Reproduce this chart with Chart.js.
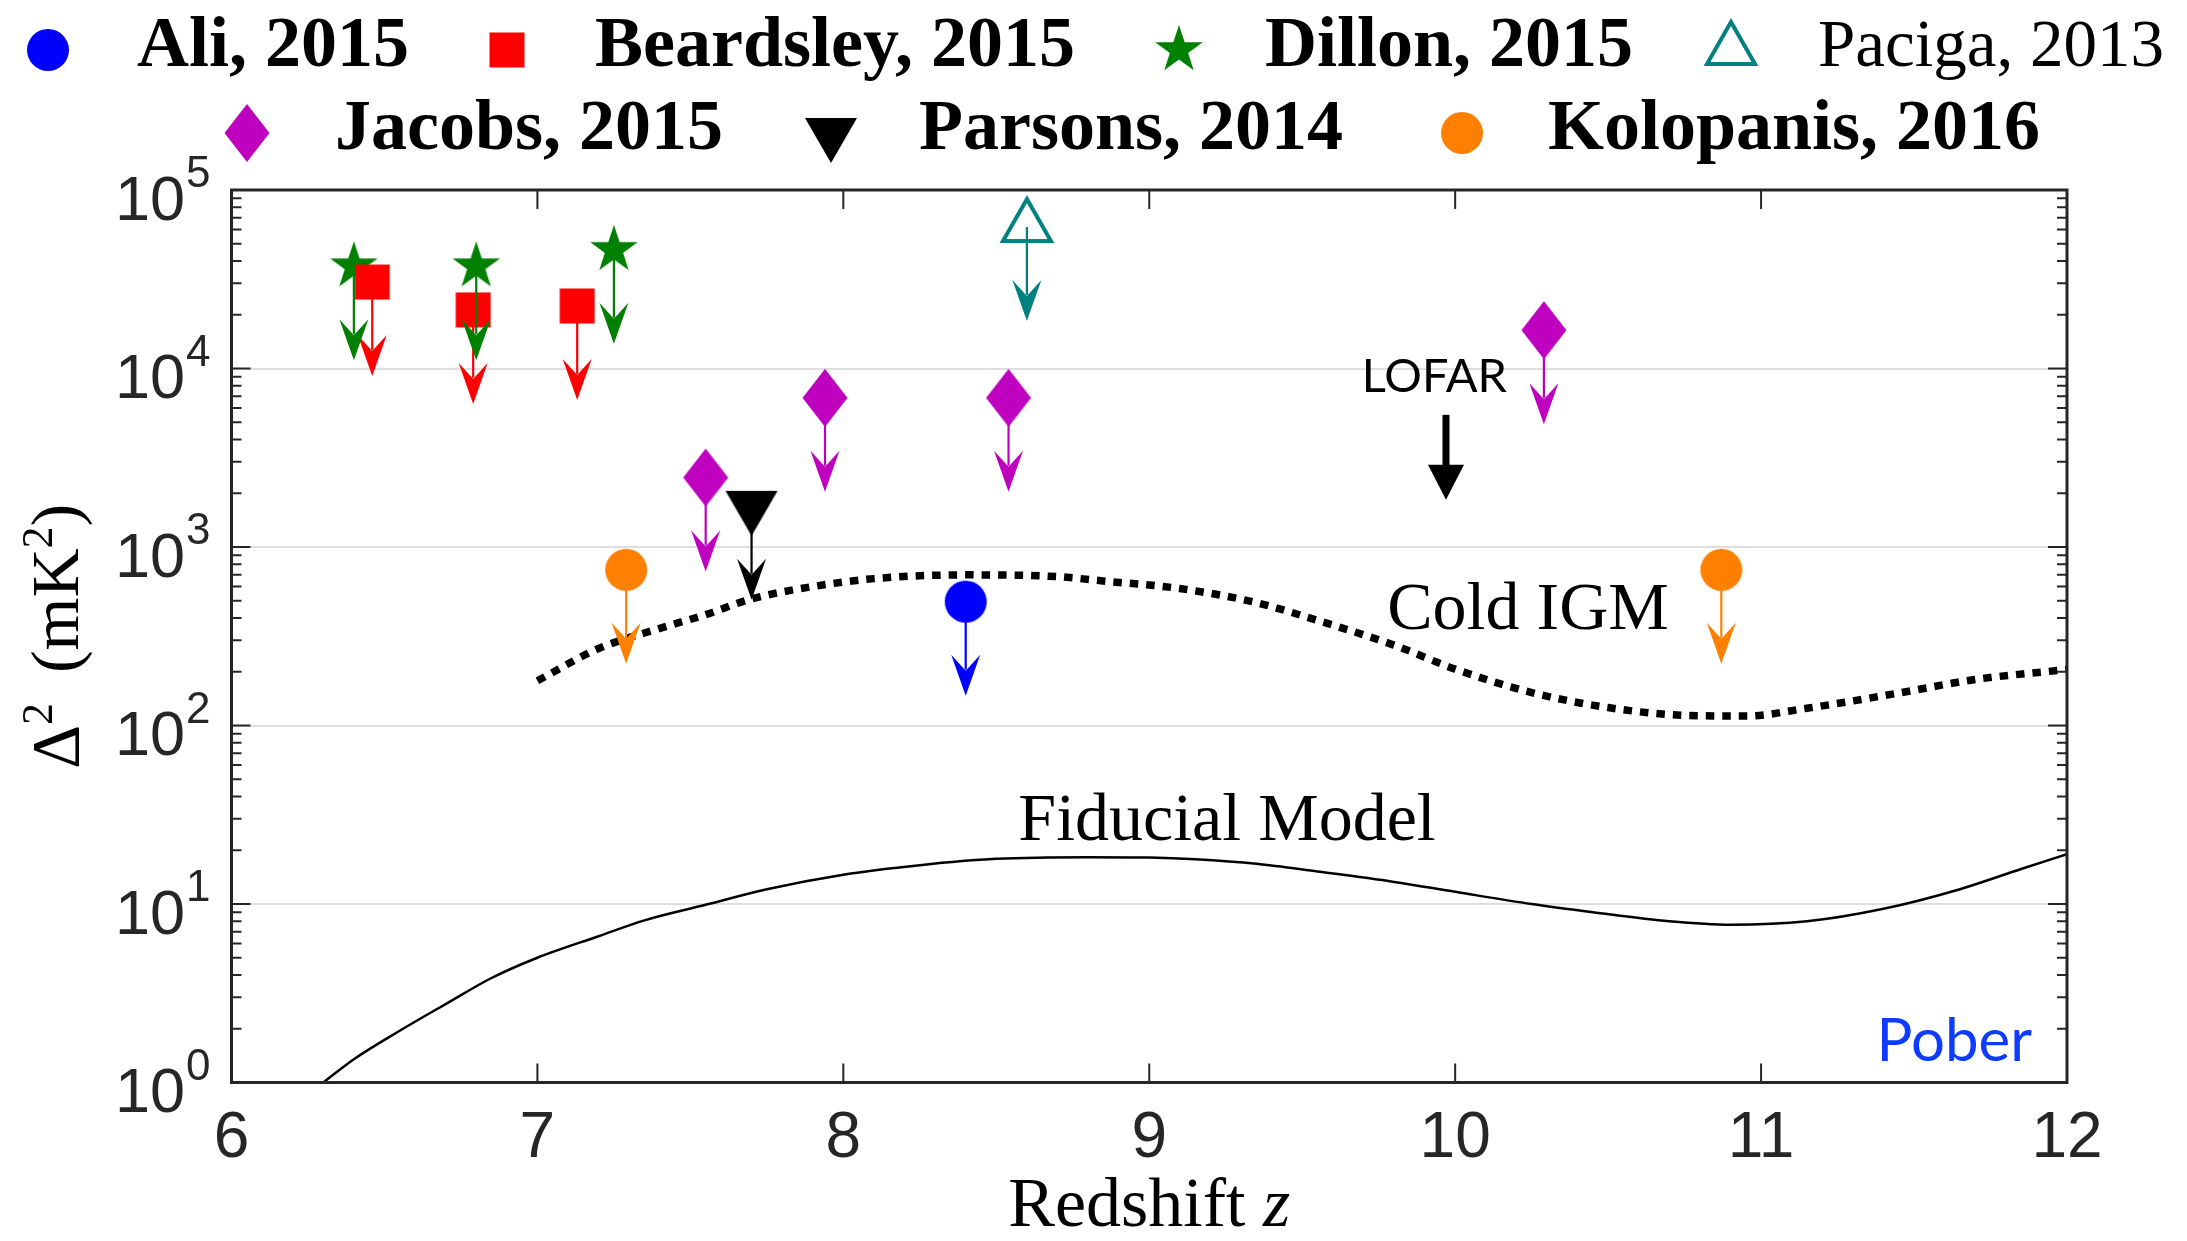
<!DOCTYPE html>
<html>
<head>
<meta charset="utf-8">
<script src="https://cdn.jsdelivr.net/npm/chart.js@4.4.1/dist/chart.umd.min.js"></script>
<style>
  html, body { margin: 0; padding: 0; background: #fff; }
  #wrap { width: 2187px; height: 1241px; position: relative; }
</style>
</head>
<body>
<div id="wrap"><canvas id="myChart"></canvas></div>
<script>
// upper limits, redshift z vs Delta^2 (mK^2)
const aliZ = [8.4];
const aliVal = [494];
const beardsleyZ = [6.46, 6.79, 7.13];
const beardsleyVal = [30500, 21300, 22400];
const dillonZ = [6.4, 6.8, 7.25];
const dillonVal = [37400, 37400, 46200];
const pacigaZ = [8.6];
const pacigaVal = [62000];
const jacobsZ = [7.55, 7.94, 8.54, 10.29];
const jacobsVal = [2450, 6850, 6850, 16400];
const parsonsZ = [7.7];
const parsonsVal = [1700];
const kolopanisZ = [7.29, 10.87];
const kolopanisVal = [745, 745];
const lofarZ = [9.97];
const lofarVal = [5500];

// model curves
const fiducialZ = [6.3, 6.4, 6.55, 6.7, 6.85, 7.0, 7.2, 7.35, 7.55, 7.75, 8.0, 8.25, 8.5, 8.8, 9.0, 9.15, 9.35, 9.55, 9.8, 10.0, 10.25, 10.45, 10.7, 10.9, 11.15, 11.4, 11.65, 11.85, 12.0];
const fiducialVal = [1.0, 1.35, 1.95, 2.75, 3.85, 5.0, 6.6, 8.1, 9.9, 12.1, 14.6, 16.5, 17.9, 18.3, 18.2, 17.8, 16.8, 15.2, 13.3, 11.7, 10.0, 9.0, 8.0, 7.65, 8.0, 9.4, 12.1, 15.7, 19.0];
const coldZ = [7.0, 7.2, 7.4, 7.55, 7.7, 7.9, 8.1, 8.4, 8.7, 8.85, 9.1, 9.35, 9.55, 9.8, 10.0, 10.25, 10.5, 10.75, 10.95, 11.15, 11.45, 11.7, 12.0];
const coldVal = [178, 270, 350, 418, 512, 600, 665, 698, 682, 645, 585, 488, 388, 282, 207, 153, 126, 114, 113, 125, 152, 181, 206];

const xTicks = [6, 7, 8, 9, 10, 11, 12];
const yTicks = [1, 10, 100, 1000, 10000, 100000];
const yExp = ["0", "1", "2", "3", "4", "5"];

const pts = (xs, ys) => xs.map((x, i) => ({ x: x, y: ys[i] }));

function makeMarker(shape, color, open) {
    const c = document.createElement("canvas");
    c.width = 64;
    c.height = 64;
    const g = c.getContext("2d");
    const cx = 32, cy = 32;
    g.beginPath();
    if (shape === "circle") {
        g.arc(cx, cy, 21, 0, Math.PI * 2);
    } else if (shape === "square") {
        g.rect(cx - 17.5, cy - 17.5, 35, 35);
    } else if (shape === "diamond") {
        g.moveTo(cx, cy - 29); g.lineTo(cx + 22.5, cy); g.lineTo(cx, cy + 29); g.lineTo(cx - 22.5, cy);
    } else if (shape === "star") {
        for (let i = 0; i < 10; i++) {
            const r = i % 2 ? 9.6 : 25;
            const a = -Math.PI / 2 + i * Math.PI / 5;
            g.lineTo(cx + r * Math.cos(a), cy + r * Math.sin(a));
        }
    } else if (shape === "triUp") {
        g.moveTo(cx, cy - 28); g.lineTo(cx + 24, cy + 14); g.lineTo(cx - 24, cy + 14);
    } else if (shape === "triDown") {
        g.moveTo(cx - 26, cy - 15); g.lineTo(cx + 26, cy - 15); g.lineTo(cx, cy + 30);
    }
    g.closePath();
    if (open) {
        g.strokeStyle = color;
        g.lineWidth = 4;
        g.stroke();
    } else {
        g.fillStyle = color;
        g.fill();
    }
    return c;
}

const vee = { len: 94, shaft: 2.2, kind: "vee" };

function pointSet(label, xs, ys, shape, color, open) {
    return {
        label: label,
        data: pts(xs, ys),
        pointStyle: makeMarker(shape, color, open),
        pointRadius: 20,
        backgroundColor: color,
        borderColor: color,
        showLine: false,
        arrow: vee,
        order: 0,
    };
}

const datasets = [
    pointSet("Ali, 2015", aliZ, aliVal, "circle", "#0000ff"),
    pointSet("Beardsley, 2015", beardsleyZ, beardsleyVal, "square", "#ff0000"),
    pointSet("Dillon, 2015", dillonZ, dillonVal, "star", "#008000"),
    pointSet("Paciga, 2013", pacigaZ, pacigaVal, "triUp", "#008080", true),
    pointSet("Jacobs, 2015", jacobsZ, jacobsVal, "diamond", "#bf00bf"),
    pointSet("Parsons, 2014", parsonsZ, parsonsVal, "triDown", "#000000"),
    pointSet("Kolopanis, 2016", kolopanisZ, kolopanisVal, "circle", "#ff8000"),
    {
        label: "LOFAR",
        data: pts(lofarZ, lofarVal),
        pointRadius: 0,
        borderColor: "#000",
        backgroundColor: "#000",
        arrow: { len: 85, shaft: 7, kind: "tri" },
        order: 0,
    },
    {
        label: "Cold IGM",
        data: pts(coldZ, coldVal),
        showLine: true,
        pointRadius: 0,
        borderColor: "#000",
        borderWidth: 7.5,
        borderDash: [8.5, 8],
        borderCapStyle: "butt",
        cubicInterpolationMode: "monotone",
        order: 5,
    },
    {
        label: "Fiducial Model",
        data: pts(fiducialZ, fiducialVal),
        showLine: true,
        pointRadius: 0,
        borderColor: "#000",
        borderWidth: 2.5,
        cubicInterpolationMode: "monotone",
        order: 5,
    },
];

// text placed in data coordinates
const notes = [
    { text: "Cold IGM", z: 9.778, v: 346, font: "68px 'Liberation Serif'", color: "#000", align: "left" },
    { text: "Fiducial Model", z: 8.572, v: 22.7, font: "68px 'Liberation Serif'", color: "#000", align: "left" },
    { text: "LOFAR", z: 9.932, v: 7380, font: "47px Lato", color: "#000", align: "center" },
    { text: "Pober", z: 11.886, v: 1.32, font: "60px Lato", color: "#0d3bff", align: "right" },
];

const legendSlots = [
    { ds: 0, mx: 48, tx: 137, row: 0 },
    { ds: 1, mx: 507, tx: 595, row: 0 },
    { ds: 2, mx: 1179, tx: 1265, row: 0 },
    { ds: 3, mx: 1731, tx: 1818, row: 0, regular: true },
    { ds: 4, mx: 247, tx: 335, row: 1 },
    { ds: 5, mx: 831, tx: 919, row: 1 },
    { ds: 6, mx: 1462, tx: 1548, row: 1 },
];
const legendRows = [{ my: 50, base: 66 }, { my: 133, base: 149 }];

function drawArrow(c, x, y, a, color) {
    const tip = y + a.len;
    c.save();
    c.fillStyle = color;
    c.strokeStyle = color;
    c.lineWidth = a.shaft;
    c.beginPath();
    if (a.kind === "tri") {
        c.moveTo(x, y);
        c.lineTo(x, tip - 33);
        c.stroke();
        c.beginPath();
        c.moveTo(x - 18, tip - 35);
        c.lineTo(x + 18, tip - 35);
        c.lineTo(x, tip);
    } else {
        c.moveTo(x, y);
        c.lineTo(x, tip - 26);
        c.stroke();
        c.beginPath();
        c.moveTo(x, tip);
        c.lineTo(x - 14.5, tip - 41);
        c.lineTo(x, tip - 25);
        c.lineTo(x + 14.5, tip - 41);
    }
    c.closePath();
    c.fill();
    c.restore();
}

const matlabAxes = {
    id: "matlabAxes",
    afterDatasetsDraw(chart) {
        const c = chart.ctx;
        const a = chart.chartArea;
        const x = chart.scales.x;
        const y = chart.scales.y;

        chart.data.datasets.forEach((ds, i) => {
            if (!ds.arrow) return;
            chart.getDatasetMeta(i).data.forEach(p => drawArrow(c, p.x, p.y, ds.arrow, ds.borderColor));
        });

        c.save();
        c.strokeStyle = "#262626";
        c.lineWidth = 2;
        c.beginPath();
        xTicks.forEach(v => {
            const px = x.getPixelForValue(v);
            c.moveTo(px, a.bottom); c.lineTo(px, a.bottom - 19);
            c.moveTo(px, a.top); c.lineTo(px, a.top + 19);
        });
        for (let d = 1; d < 1e5; d *= 10) {
            for (let m = 1; m < 10; m++) {
                const py = y.getPixelForValue(d * m);
                const len = m === 1 ? 19 : 10;
                c.moveTo(a.left, py); c.lineTo(a.left + len, py);
                c.moveTo(a.right, py); c.lineTo(a.right - len, py);
            }
        }
        c.stroke();
        c.lineWidth = 3;
        c.strokeRect(a.left, a.top, a.right - a.left, a.bottom - a.top);

        // tick labels
        c.fillStyle = "#262626";
        c.textBaseline = "alphabetic";
        c.font = "64px 'Liberation Sans'";
        c.textAlign = "center";
        xTicks.forEach(v => c.fillText(String(v), x.getPixelForValue(v), a.bottom + 74.5));
        yTicks.forEach((v, i) => {
            const py = y.getPixelForValue(v);
            c.font = "44px 'Liberation Sans'";
            c.textAlign = "right";
            const ew = c.measureText(yExp[i]).width;
            c.fillText(yExp[i], a.left - 21, py - 3);
            c.font = "63px 'Liberation Sans'";
            c.fillText("10", a.left - 21 - ew - 1, py + 29.5);
        });

        // axis titles
        c.fillStyle = "#000";
        c.textAlign = "left";
        const main = "70px 'Liberation Serif'";
        const ital = "italic 70px 'Liberation Serif'";
        c.font = main;
        const w1 = c.measureText("Redshift ").width;
        c.font = ital;
        const w2 = c.measureText("z").width;
        const cx = (a.left + a.right) / 2;
        c.font = main;
        c.fillText("Redshift ", cx - (w1 + w2) / 2, 1226);
        c.font = ital;
        c.fillText("z", cx - (w1 + w2) / 2 + w1, 1226);

        const yParts = [
            { t: "\u0394", f: "68px 'Liberation Serif'", dy: 0 },
            { t: "2", f: "44px 'Liberation Serif'", dy: -26 },
            { gap: 30 },
            { t: "(mK", f: "68px 'Liberation Serif'", dy: 0 },
            { t: "2", f: "44px 'Liberation Serif'", dy: -26 },
            { t: ")", f: "68px 'Liberation Serif'", dy: 0 },
        ];
        let total = 0;
        yParts.forEach(p => {
            if (p.gap) { p.w = p.gap; } else { c.font = p.f; p.w = c.measureText(p.t).width; }
            total += p.w;
        });
        c.save();
        c.translate(78, (a.top + a.bottom) / 2);
        c.rotate(-Math.PI / 2);
        let pos = -total / 2;
        yParts.forEach(p => {
            if (!p.gap) { c.font = p.f; c.fillText(p.t, pos, p.dy); }
            pos += p.w;
        });
        c.restore();

        // annotations
        notes.forEach(n => {
            c.font = n.font;
            c.fillStyle = n.color;
            c.textAlign = n.align;
            c.fillText(n.text, x.getPixelForValue(n.z), y.getPixelForValue(n.v));
        });
        c.restore();
    },
    afterDraw(chart) {
        const c = chart.ctx;
        c.save();
        c.fillStyle = "#000";
        c.textAlign = "left";
        c.textBaseline = "alphabetic";
        legendSlots.forEach(s => {
            const ds = chart.data.datasets[s.ds];
            const r = legendRows[s.row];
            c.drawImage(ds.pointStyle, s.mx - 32, r.my - 32);
            c.font = s.regular ? "67px 'Liberation Serif'" : "bold 72px 'Liberation Serif'";
            c.fillText(ds.label, s.tx, r.base);
        });
        c.restore();
    },
};

const ctx = document.getElementById("myChart").getContext("2d");
const myChart = new Chart(ctx, {
    type: "scatter",
    data: { datasets: datasets },
    options: {
        responsive: true,
        maintainAspectRatio: false,
        devicePixelRatio: 1,
        animation: false,
        events: [],
        layout: {
            autoPadding: false,
            padding: { top: 190, right: 120, bottom: 0, left: 0 },
        },
        plugins: {
            legend: { display: false },
            tooltip: { enabled: false },
        },
        scales: {
            x: {
                type: "linear",
                min: 6,
                max: 12,
                afterBuildTicks: s => { s.ticks = xTicks.map(v => ({ value: v })); },
                afterFit: s => { s.height = 158.5; },
                ticks: { display: false },
                grid: { display: false },
                border: { display: false },
            },
            y: {
                type: "logarithmic",
                min: 1,
                max: 100000,
                afterBuildTicks: s => { s.ticks = yTicks.map(v => ({ value: v })); },
                afterFit: s => { s.width = 231.5; },
                ticks: { display: false },
                grid: { color: "#dedede", lineWidth: 2, drawTicks: false },
                border: { display: false },
            },
        },
    },
    plugins: [matlabAxes],
});
</script>
</body>
</html>
